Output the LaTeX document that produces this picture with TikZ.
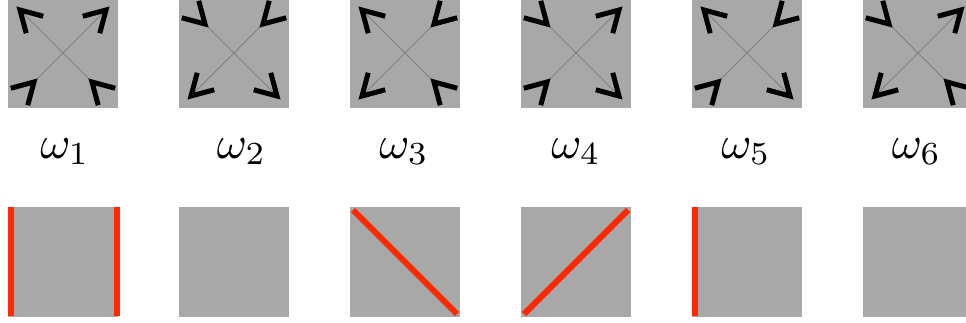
\documentclass[tikz,border=0pt]{standalone}
\usetikzlibrary{calc}
\definecolor{sqgray}{RGB}{168,168,168}
\definecolor{lngray}{RGB}{128,128,128}
\definecolor{redl}{RGB}{255,40,0}
\tikzset{
  sq/.style={fill=sqgray, draw=none, minimum size=110pt, inner sep=0pt, outer sep=0pt},
  diag/.style={draw=lngray, line width=0.9pt},
  redline/.style={draw=redl, line width=6pt},
  lbl/.style={anchor=base, inner sep=0pt, scale=4.6},
  chev/.pic={\draw[line width=5pt, line join=miter, miter limit=10] (-20.8pt,12pt) -- (0,0) -- (-20.8pt,-12pt);}
}
\begin{document}
\begin{tikzpicture}[x=1pt,y=1pt]
\useasboundingbox (0,0) rectangle (966,-322);
% top row: i / TL / TR / BL / BR insets (12 = outward, 26 = inward) / label x
\foreach \i/\a/\b/\c/\d/\lx in {0/12/12/26/26/65, 1/26/26/12/12/241.5, 2/12/26/12/26/404, 3/26/12/26/12/576, 4/12/26/26/12/746, 5/26/12/12/26/916.5}{
  \pgfmathsetmacro\xo{8+171*\i}
  \pgfmathtruncatemacro\n{\i+1}
  \node[sq] (t\i) at (\xo+55,-53) {};
  \coordinate (tl\i) at ($(t\i.north west)+(\a,-\a)$);
  \coordinate (tr\i) at ($(t\i.north east)+(-\b,-\b)$);
  \coordinate (bl\i) at ($(t\i.south west)+(\c,\c)$);
  \coordinate (br\i) at ($(t\i.south east)+(-\d,\d)$);
  \draw[diag] (tl\i) -- (br\i);
  \draw[diag] (bl\i) -- (tr\i);
  \pgfmathsetmacro\ra{135+180*(\a>20)}
  \pgfmathsetmacro\rb{45+180*(\b>20)}
  \pgfmathsetmacro\rc{225+180*(\c>20)}
  \pgfmathsetmacro\rd{-45+180*(\d>20)}
  \pic[rotate=\ra] at (tl\i) {chev};
  \pic[rotate=\rb] at (tr\i) {chev};
  \pic[rotate=\rc] at (bl\i) {chev};
  \pic[rotate=\rd] at (br\i) {chev};
  \node[lbl] (w\i) at (\lx,-158) {$\omega_{\n}$};
  \node[sq] (b\i) at (\xo+55,-262) {};
}
% bottom row red lines
\draw[redline] ([xshift=3pt]b0.north west) -- ([xshift=3pt,yshift=1pt]b0.south west);
\draw[redline] ([xshift=-1pt]b0.north east) -- ([xshift=-1pt,yshift=1pt]b0.south east);
\draw[redline] ([xshift=3pt,yshift=-3pt]b2.north west) -- ([xshift=-3pt,yshift=3pt]b2.south east);
\draw[redline] ([xshift=3pt,yshift=3pt]b3.south west) -- ([xshift=-3pt,yshift=-3pt]b3.north east);
\draw[redline] ([xshift=2.5pt]b4.north west) -- ([xshift=2.5pt,yshift=1pt]b4.south west);
\end{tikzpicture}
\end{document}
